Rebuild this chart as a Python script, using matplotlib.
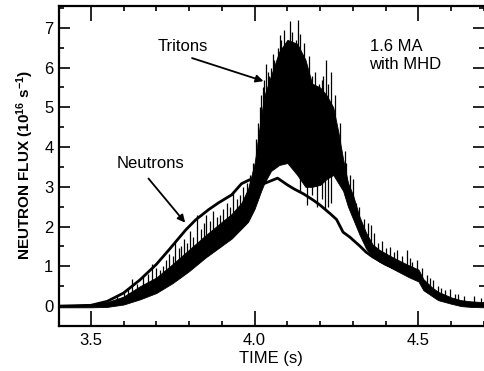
import matplotlib
matplotlib.use("Agg")
import matplotlib.pyplot as plt
import numpy as np

plt.rcParams['font.family'] = ['Liberation Sans', 'DejaVu Sans']
plt.rcParams['mathtext.fontset'] = 'custom'
plt.rcParams['mathtext.rm'] = 'Liberation Sans:bold'
plt.rcParams['mathtext.default'] = 'rm'

# Neutron flux (smooth trace), units of 1e16 n/s
neutron_t = [3.40, 3.50, 3.55, 3.60, 3.65, 3.70, 3.74, 3.79, 3.82, 3.86, 3.89,
             3.93, 3.96, 3.985, 4.01, 4.04, 4.07, 4.10, 4.12, 4.15, 4.18, 4.20,
             4.23, 4.25, 4.27, 4.29, 4.32, 4.34, 4.36, 4.40, 4.45, 4.50, 4.55,
             4.60, 4.70]
neutron_v = [0.00, 0.02, 0.12, 0.33, 0.66, 1.05, 1.43, 1.92, 2.17, 2.43, 2.60,
             2.80, 3.08, 3.18, 3.02, 3.12, 3.22, 3.05, 2.95, 2.82, 2.66, 2.54,
             2.33, 2.18, 1.86, 1.74, 1.52, 1.36, 1.24, 1.05, 0.88, 0.70, 0.30,
             0.12, 0.03]

# Triton-derived flux: dense band of the fluctuating signal (lower / upper edge)
triton_t = [3.40, 3.45, 3.50, 3.55, 3.60, 3.65, 3.70, 3.75, 3.80, 3.85, 3.90,
            3.93, 3.96, 3.98, 4.00, 4.02, 4.03, 4.05, 4.075, 4.10, 4.13, 4.155,
            4.175, 4.20, 4.22, 4.24, 4.255, 4.27, 4.285, 4.30, 4.32, 4.34, 4.36,
            4.38, 4.41, 4.44, 4.47, 4.50, 4.515, 4.54, 4.56, 4.60, 4.63, 4.66,
            4.70]
triton_lo = [-0.03, -0.03, -0.03, -0.02, 0.04, 0.17, 0.33, 0.58, 0.88, 1.22, 1.52,
             1.70, 1.95, 2.12, 2.45, 2.90, 3.10, 3.40, 3.55, 3.60, 3.30, 3.00,
             3.00, 3.05, 3.20, 3.30, 3.10, 2.90, 2.50, 2.20, 1.80, 1.45, 1.24,
             1.12, 0.99, 0.86, 0.73, 0.62, 0.40, 0.26, 0.15, 0.06, 0.00, -0.02,
             -0.03]
triton_hi = [0.03, 0.03, 0.05, 0.10, 0.24, 0.50, 0.72, 1.06, 1.42, 1.78, 2.12,
             2.32, 2.60, 2.95, 3.60, 4.80, 5.30, 5.80, 6.40, 6.70, 6.60, 6.20,
             5.60, 5.50, 5.30, 5.00, 4.40, 3.70, 3.10, 2.80, 2.25, 1.85, 1.55,
             1.42, 1.28, 1.15, 1.03, 0.92, 0.68, 0.48, 0.36, 0.22, 0.15, 0.12,
             0.10]

# Individual upward spikes of the triton signal (time, peak value)
spike_t = [3.58, 3.60, 3.615, 3.626, 3.64, 3.66, 3.675, 3.687, 3.70, 3.71,
           3.72, 3.73, 3.74, 3.75, 3.758, 3.768, 3.775, 3.783, 3.793, 3.803,
           3.813, 3.823, 3.835, 3.845, 3.853, 3.864, 3.874, 3.885, 3.894, 3.905,
           3.915, 3.925, 3.934, 3.945, 3.955, 3.965, 3.976, 3.985, 3.995,
           4.005, 4.01, 4.015, 4.02, 4.025, 4.03, 4.035, 4.04, 4.045, 4.05,
           4.055, 4.06, 4.065, 4.07, 4.076, 4.082, 4.09, 4.098, 4.107, 4.115,
           4.125, 4.133, 4.14, 4.15, 4.158, 4.167, 4.175, 4.185, 4.197, 4.205,
           4.21, 4.217, 4.225, 4.232, 4.245, 4.26, 4.275, 4.28,
           4.29, 4.30, 4.31, 4.32, 4.335, 4.345, 4.354, 4.364, 4.375, 4.39,
           4.40, 4.414, 4.425, 4.434, 4.45, 4.465, 4.475, 4.48, 4.495, 4.51,
           4.525, 4.535, 4.545, 4.56, 4.57, 4.581, 4.596, 4.61, 4.62, 4.64,
           4.67, 4.69]
spike_v = [0.25, 0.35, 0.45, 0.69, 0.55, 0.75, 0.80, 1.07, 0.95, 0.90,
           1.00, 1.15, 1.30, 1.25, 1.61, 1.45, 1.50, 1.70, 1.60, 1.90,
           1.75, 2.30, 1.95, 2.10, 2.28, 2.15, 2.40, 2.25, 2.30, 2.45,
           2.60, 2.50, 2.90, 2.70, 2.80, 3.00, 3.10, 3.30, 3.60,
           4.20, 4.60, 5.00, 5.30, 5.50, 5.70, 6.08, 5.90, 5.80, 6.00,
           6.33, 6.20, 6.10, 6.50, 6.83, 6.70, 6.95, 6.60, 7.17, 6.90,
           6.70, 7.20, 6.85, 6.62, 6.00, 6.30, 5.80, 5.90, 5.60, 5.70,
           5.80, 6.20, 5.60, 5.90, 5.30, 4.60, 3.90, 3.60,
           3.30, 3.20, 2.60, 2.50, 2.20, 2.10, 2.03, 1.83, 1.60, 1.65,
           1.45, 1.49, 1.35, 1.40, 1.25, 1.40, 1.20, 1.10, 1.17, 0.95,
           0.78, 0.70, 0.65, 0.50, 0.45, 0.40, 0.42, 0.30, 0.30, 0.25,
           0.25, 0.20]

# Downward excursions inside the peak (time, lowest value)
dip_t = [4.14, 4.16, 4.175, 4.19, 4.205, 4.215, 4.225, 4.232]
dip_v = [2.90, 2.55, 2.80, 2.50, 2.70, 2.45, 2.50, 2.60]

fig = plt.figure(figsize=(4.84, 3.71), dpi=100)
ax = fig.add_axes([59 / 484, 45 / 371, 425 / 484, 320 / 371])

ax.fill_between(triton_t, triton_lo, triton_hi, color='black', lw=0.6,
                edgecolor='black')
spike_base = np.interp(spike_t, triton_t, triton_hi)
ax.vlines(spike_t, spike_base - 0.1, spike_v, color='black', lw=0.9)
dip_base = np.interp(dip_t, triton_t, triton_lo)
ax.vlines(dip_t, dip_v, dip_base + 0.1, color='black', lw=0.9)

ax.plot(neutron_t, neutron_v, color='black', lw=2.0, solid_joinstyle='round')

ax.set_xlim(3.403, 4.694)
ax.set_ylim(-0.5, 7.55)

ax.set_xticks([3.5, 4.0, 4.5])
ax.set_xticklabels(['3.5', '4.0', '4.5'])
ax.set_xticks(np.arange(3.5, 4.7, 0.1), minor=True)
ax.set_yticks(range(0, 8))
ax.set_yticks(np.arange(-0.5, 7.6, 0.5), minor=True)

ax.tick_params(which='both', direction='in', top=True, right=True,
               width=1.2, labelsize=12, colors='black')
ax.tick_params(axis='x', which='major', length=10.5, pad=5)
ax.tick_params(axis='x', which='minor', length=3.5)
ax.tick_params(axis='y', which='major', length=8, pad=4)
ax.tick_params(axis='y', which='minor', length=3.5)

for side in ('left', 'bottom', 'top'):
    ax.spines[side].set_linewidth(1.6)
ax.spines['right'].set_visible(False)

fig.text(25.7 / 484, 1 - 165 / 371, r'NEUTRON FLUX (10$^{16}$ s$^{-1}$)',
         rotation=90, ha='center', va='center', fontsize=11,
         fontweight='bold')
fig.text(271 / 484, 1 - 358 / 371, 'TIME (s)', ha='center', va='center',
         fontsize=12)

ax.text(3.782, 6.52, 'Tritons', ha='center', va='center', fontsize=12)
ax.text(3.682, 3.58, 'Neutrons', ha='center', va='center', fontsize=12)
ax.text(4.352, 6.52, '1.6 MA', ha='left', va='center', fontsize=12)
ax.text(4.350, 6.08, 'with MHD', ha='left', va='center', fontsize=12)

arrow = dict(arrowstyle='-|>', color='black', lw=1.3, mutation_scale=11,
             shrinkA=0, shrinkB=0)
ax.annotate('', xy=(4.027, 5.66), xytext=(3.809, 6.24), arrowprops=arrow)
ax.annotate('', xy=(3.788, 2.10), xytext=(3.676, 3.21), arrowprops=arrow)

fig.savefig('out.png', dpi=100)
